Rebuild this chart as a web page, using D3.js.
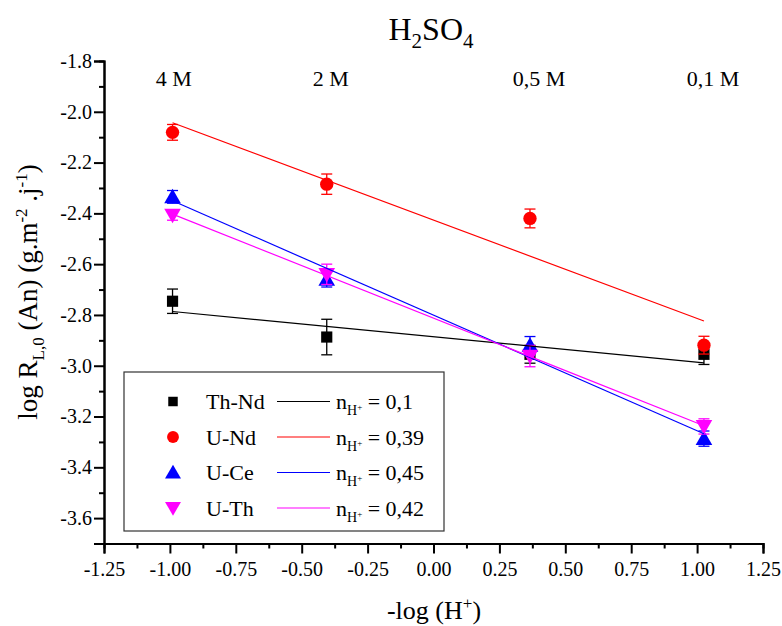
<!DOCTYPE html>
<html>
<head>
<meta charset="utf-8">
<script src="https://cdn.jsdelivr.net/npm/d3@7/dist/d3.min.js"></script>
<style>
  html, body { margin: 0; padding: 0; background: #ffffff; }
  svg { display: block; }
  text { font-family: "Liberation Serif", "Times New Roman", serif; fill: #000; }
</style>
</head>
<body>
<svg id="chart" width="782" height="626"></svg>
<script>
// ---- data ----
const concentrations = ["4 M", "2 M", "0,5 M", "0,1 M"];
const concLabelX = [-0.985, -0.39, 0.40, 1.06];
const xValues = [-0.99, -0.405, 0.366, 1.026];

const seriesNames = ["Th-Nd", "U-Nd", "U-Ce", "U-Th"];
const nValues = ["0,1", "0,39", "0,45", "0,42"];
const seriesColors = ["#000000", "#ff0000", "#0000ff", "#ff00ff"];
const seriesSymbols = ["square", "circle", "triangleUp", "triangleDown"];

const thNd = [-2.746, -2.887, -2.955, -2.955];
const uNd  = [-2.081, -2.285, -2.420, -2.919];
const uCe  = [-2.335, -2.660, -2.920, -3.287];
const uTh  = [-2.407, -2.640, -2.962, -3.239];

const thNdErr = [0.048, 0.070, 0.035, 0.040];
const uNdErr  = [0.031, 0.040, 0.037, 0.035];
const uCeErr  = [0.025, 0.030, 0.035, 0.030];
const uThErr  = [0.020, 0.040, 0.042, 0.030];

const yMajorTicks = [-1.8, -2.0, -2.2, -2.4, -2.6, -2.8, -3.0, -3.2, -3.4, -3.6];
const yMinorTicks = [-1.9, -2.1, -2.3, -2.5, -2.7, -2.9, -3.1, -3.3, -3.5, -3.7];
const xMajorTicks = [-1.25, -1.0, -0.75, -0.5, -0.25, 0, 0.25, 0.5, 0.75, 1.0, 1.25];
const xMinorTicks = [-1.125, -0.875, -0.625, -0.375, -0.125, 0.125, 0.375, 0.625, 0.875, 1.125];

const allY = [thNd, uNd, uCe, uTh];
const allErr = [thNdErr, uNdErr, uCeErr, uThErr];

// ---- layout ----
const FONT = '"Liberation Serif", "Times New Roman", serif';
const svg = d3.select("#chart");
const x = d3.scaleLinear().domain([-1.25, 1.25]).range([104, 763]);
const y = d3.scaleLinear().domain([-3.7, -1.8]).range([543.5, 61]);

// axes
function styleAxis(g) {
  g.attr("font-family", FONT).attr("font-size", 20);
  g.select(".domain").attr("stroke", "#000").attr("stroke-width", 2);
  g.selectAll(".tick line").attr("stroke", "#000").attr("stroke-width", 2);
  g.selectAll(".tick text").style("font-family", FONT).style("font-size", "20px").attr("fill", "#000");
}
const yAxis = svg.append("g").attr("transform", `translate(${x.range()[0]},0)`)
  .call(d3.axisLeft(y).tickValues(yMajorTicks).tickSize(10).tickPadding(2).tickFormat(d => d.toFixed(1)));
styleAxis(yAxis);
const yAxisMinor = svg.append("g").attr("transform", `translate(${x.range()[0]},0)`)
  .call(d3.axisLeft(y).tickValues(yMinorTicks).tickSize(5).tickFormat(""));
styleAxis(yAxisMinor);

const xAxis = svg.append("g").attr("transform", `translate(0,${y.range()[0]})`)
  .call(d3.axisBottom(x).tickValues(xMajorTicks).tickSize(10).tickPadding(8).tickFormat(d => d.toFixed(2)));
styleAxis(xAxis);
const xAxisMinor = svg.append("g").attr("transform", `translate(0,${y.range()[0]})`)
  .call(d3.axisBottom(x).tickValues(xMinorTicks).tickSize(5).tickFormat(""));
styleAxis(xAxisMinor);

// symbols
function symbolType(name) {
  if (name === "square") return d3.symbolSquare;
  if (name === "circle") return d3.symbolCircle;
  return d3.symbolTriangle;
}
function symbolSize(name) {
  if (name === "square") return 125;
  if (name === "circle") return 140;
  return 120;
}

// linear fit
function fit(xs, ys) {
  const mx = d3.mean(xs), my = d3.mean(ys);
  let sxy = 0, sxx = 0;
  xs.forEach((v, i) => { sxy += (v - mx) * (ys[i] - my); sxx += (v - mx) * (v - mx); });
  const b = sxy / sxx;
  return { a: my - b * mx, b };
}

const plot = svg.append("g");

allY.forEach((ys, si) => {
  const col = seriesColors[si];
  const g = plot.append("g");
  // error bars
  ys.forEach((v, i) => {
    const e = allErr[si][i];
    const cx = x(xValues[i]);
    g.append("line").attr("x1", cx).attr("x2", cx).attr("y1", y(v - e)).attr("y2", y(v + e))
      .attr("stroke", col).attr("stroke-width", 1.3);
    [v - e, v + e].forEach(ev => {
      g.append("line").attr("x1", cx - 5.5).attr("x2", cx + 5.5).attr("y1", y(ev)).attr("y2", y(ev))
        .attr("stroke", col).attr("stroke-width", 1.3);
    });
  });
  // markers
  const sym = seriesSymbols[si];
  ys.forEach((v, i) => {
    const rot = sym === "triangleDown" ? 180 : 0;
    g.append("path")
      .attr("d", d3.symbol().type(symbolType(sym)).size(symbolSize(sym))())
      .attr("transform", `translate(${x(xValues[i])},${y(v) + (sym === "triangleUp" ? 1.5 : sym === "triangleDown" ? -1.5 : 0)}) rotate(${rot})`)
      .attr("fill", col);
  });
});

// fit lines
allY.forEach((ys, si) => {
  const f = fit(xValues, ys);
  const x0 = d3.min(xValues), x1 = d3.max(xValues);
  plot.append("line")
    .attr("x1", x(x0)).attr("y1", y(f.a + f.b * x0))
    .attr("x2", x(x1)).attr("y2", y(f.a + f.b * x1))
    .attr("stroke", seriesColors[si]).attr("stroke-width", 1.2);
});

// concentration labels
concentrations.forEach((c, i) => {
  svg.append("text").attr("x", x(concLabelX[i])).attr("y", 86)
    .attr("text-anchor", "middle").style("font-size", "22px").text(c);
});

// title
const title = svg.append("text").attr("x", 431).attr("y", 40).attr("text-anchor", "middle").style("font-size", "32px");
title.append("tspan").text("H");
title.append("tspan").attr("dy", 8).style("font-size", "21px").text("2");
title.append("tspan").attr("dy", -8).text("SO");
title.append("tspan").attr("dy", 8).style("font-size", "21px").text("4");

// x label
const xl = svg.append("text").attr("x", 434).attr("y", 619).attr("text-anchor", "middle").style("font-size", "26px");
xl.append("tspan").text("-log (H");
xl.append("tspan").attr("dy", -10).style("font-size", "17px").text("+");
xl.append("tspan").attr("dy", 10).text(")");

// y label
const yl = svg.append("text").attr("transform", "translate(37,292) rotate(-90)").attr("text-anchor", "middle").style("font-size", "27px");
yl.append("tspan").text("log R");
yl.append("tspan").attr("dy", 7).style("font-size", "17px").text("L,0");
yl.append("tspan").attr("dy", -7).text(" (An) (g.m");
yl.append("tspan").attr("dy", -10).style("font-size", "17px").text("-2");
yl.append("tspan").attr("dy", 10).text(" .j");
yl.append("tspan").attr("dy", -10).style("font-size", "17px").text("-1");
yl.append("tspan").attr("dy", 10).text(")");

// legend
const leg = svg.append("g");
leg.append("rect").attr("x", 124).attr("y", 372).attr("width", 320).attr("height", 159)
  .attr("fill", "#fff").attr("stroke", "#333").attr("stroke-width", 1.2);
const rowBase = [409, 444.5, 480, 515.5];
seriesNames.forEach((nm, i) => {
  const cy = rowBase[i] - 7.5;
  const sym = seriesSymbols[i];
  leg.append("path")
    .attr("d", d3.symbol().type(symbolType(sym)).size(sym === "square" ? 90 : 110)())
    .attr("transform", `translate(173,${cy + (sym === "triangleUp" ? 1.5 : sym === "triangleDown" ? -1.5 : 0)}) rotate(${sym === "triangleDown" ? 180 : 0})`)
    .attr("fill", seriesColors[i]);
  leg.append("text").attr("x", 206).attr("y", rowBase[i]).style("font-size", "22px").text(nm);
  leg.append("line").attr("x1", 277).attr("x2", 330).attr("y1", cy).attr("y2", cy)
    .attr("stroke", seriesColors[i]).attr("stroke-width", 1.2);
  const t = leg.append("text").attr("x", 336).attr("y", rowBase[i]).style("font-size", "22px");
  t.append("tspan").text("n");
  t.append("tspan").attr("dy", 6).style("font-size", "14px").text("H");
  t.append("tspan").attr("dy", -5).style("font-size", "9px").text("+");
  t.append("tspan").attr("dy", -1).text(" = " + nValues[i]);
});
</script>
</body>
</html>
